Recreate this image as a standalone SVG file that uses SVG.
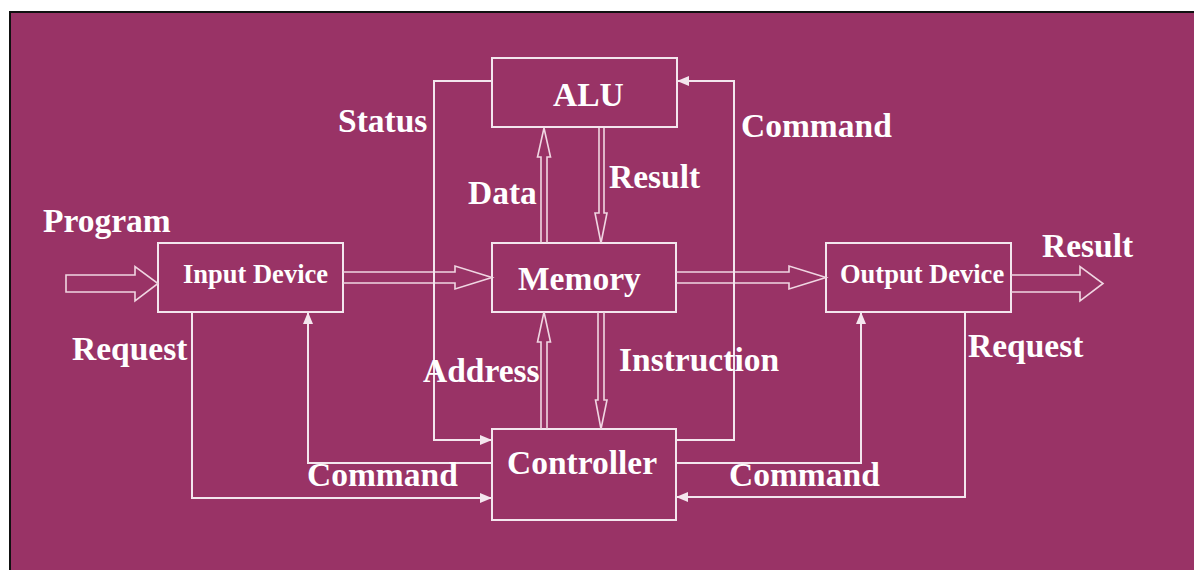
<svg xmlns="http://www.w3.org/2000/svg" width="1194" height="570" viewBox="0 0 1194 570">
  <defs>
    <style>
      .bg { fill: #993366; }
      .edge { stroke: #111111; stroke-width: 2; fill: none; }
      .box { fill: none; stroke: #f4e6ee; stroke-width: 2; }
      .wire { fill: none; stroke: #f4e6ee; stroke-width: 2; }
      .bus { fill: none; stroke: #f0d6e2; stroke-width: 1.6; stroke-linejoin: miter; }
      .lbl { font-family: "Liberation Serif", "Times New Roman", serif; font-weight: bold; font-size: 33.5px; fill: #ffffff; }
      .dev { font-size: 26.5px; }
    </style>
    <marker id="tip" viewBox="0 0 12 10" refX="12" refY="5" markerWidth="12" markerHeight="10" markerUnits="userSpaceOnUse" orient="auto">
      <path d="M0,0 L12,5 L0,10 Z" fill="#f4e6ee"/>
    </marker>
  </defs>

  <!-- page -->
  <rect class="bg" x="10" y="12" width="1184" height="558"/>
  <path class="edge" d="M10,570 V12 H1194"/>

  <!-- functional units -->
  <g id="alu">
    <rect class="box" x="492" y="58" width="185" height="69"/>
    <text class="lbl" x="553" y="106">ALU</text>
  </g>
  <g id="memory">
    <rect class="box" x="492" y="243" width="184" height="69"/>
    <text class="lbl" x="518" y="290">Memory</text>
  </g>
  <g id="controller">
    <rect class="box" x="492" y="429" width="184" height="91"/>
    <text class="lbl" x="507" y="474">Controller</text>
  </g>
  <g id="input-device">
    <rect class="box" x="158" y="243" width="185" height="69"/>
    <text class="lbl dev" x="183" y="283">Input Device</text>
  </g>
  <g id="output-device">
    <rect class="box" x="826" y="243" width="185" height="69"/>
    <text class="lbl dev" x="840" y="283">Output Device</text>
  </g>

  <!-- connectors -->
  <g id="connectors">
    <!-- wide data paths -->
    <path class="bus" d="M66,275 H135 V266.5 L158,283.5 L135,301 V292 H66 Z"/>
    <path class="bus" d="M343,272 H455 V266 L492,277.5 L455,289 V283 H343"/>
    <path class="bus" d="M676,272 H789 V266 L826,277.5 L789,289 V283 H676"/>
    <path class="bus" d="M1011,275 H1080 V266.5 L1103,283.5 L1080,301 V292 H1011"/>
    <path class="bus" d="M541,243 V157 H537.5 L544,128 L550.5,157 H547 V243"/>
    <path class="bus" d="M599,128 V213 H595 L601,243 L607,213 H604 V128"/>
    <path class="bus" d="M541,429 V342 H537.5 L544,312 L550.5,342 H547 V429"/>
    <path class="bus" d="M598,312 V400 H595.5 L601,429 L607,400 H604 V312"/>

    <!-- control lines -->
    <path class="wire" marker-end="url(#tip)" d="M492,81 H434 V440 H492"/>
    <path class="wire" marker-end="url(#tip)" d="M676,440 H734 V81 H677"/>
    <path class="wire" marker-end="url(#tip)" d="M192,312 V498 H492"/>
    <path class="wire" marker-end="url(#tip)" d="M492,463 H308 V312"/>
    <path class="wire" marker-end="url(#tip)" d="M676,463 H861 V312"/>
    <path class="wire" marker-end="url(#tip)" d="M965,312 V497 H676"/>

    <!-- labels -->
    <text class="lbl" x="338" y="132">Status</text>
    <text class="lbl" x="741" y="137">Command</text>
    <text class="lbl" x="468" y="204">Data</text>
    <text class="lbl" x="609" y="188">Result</text>
    <text class="lbl" x="43" y="232">Program</text>
    <text class="lbl" x="1042" y="257">Result</text>
    <text class="lbl" x="72" y="360">Request</text>
    <text class="lbl" x="968" y="357">Request</text>
    <text class="lbl" x="423" y="382">Address</text>
    <text class="lbl" x="619" y="371">Instruction</text>
    <text class="lbl" x="307" y="486">Command</text>
    <text class="lbl" x="729" y="486">Command</text>
  </g>
</svg>
